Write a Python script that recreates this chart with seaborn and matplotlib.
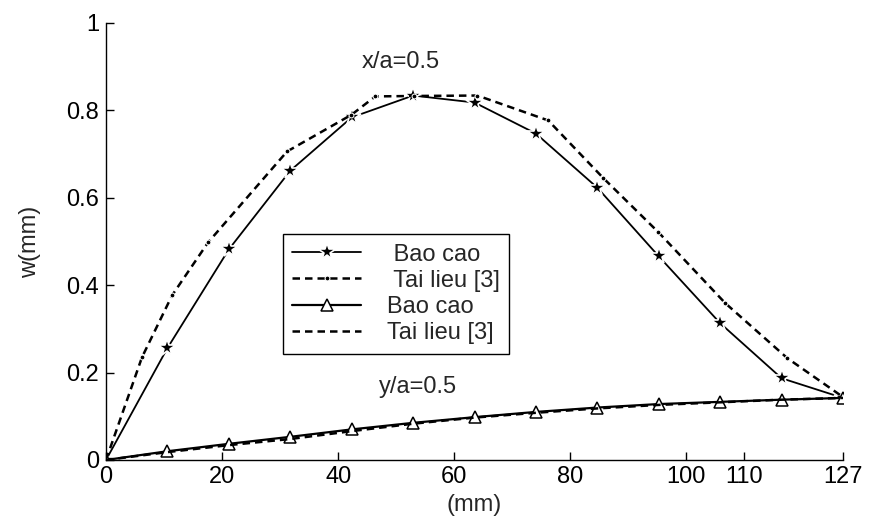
import numpy as np
import pandas as pd
import matplotlib
matplotlib.use("Agg")
import matplotlib.pyplot as plt
import seaborn as sns


# DATA
# x/a = 0.5 curves
x_bao_x = [0, 10.58, 21.17, 31.75, 42.33, 52.92, 63.5, 74.08, 84.67, 95.25, 105.83, 116.42, 127]
w_bao_x = [0, 0.256, 0.482, 0.662, 0.784, 0.834, 0.818, 0.747, 0.623, 0.466, 0.313, 0.187, 0.142]

x_tl_x = [0, 6.2, 11.4, 17.6, 31.2, 42.3, 46.4, 53, 64, 76.2, 85.7, 95.2, 106.7, 117.4, 127]
w_tl_x = [0, 0.235, 0.377, 0.498, 0.706, 0.79, 0.832, 0.833, 0.834, 0.777, 0.645, 0.521, 0.359, 0.233, 0.144]

# y/a = 0.5 curves
x_bao_y = [0, 10.58, 21.17, 31.75, 42.33, 52.92, 63.5, 74.08, 84.67, 95.25, 105.83, 116.42, 127]
w_bao_y = [0, 0.02, 0.037, 0.053, 0.07, 0.085, 0.098, 0.11, 0.12, 0.128, 0.133, 0.138, 0.142]
w_tl_y = [0, 0.018, 0.034, 0.048, 0.066, 0.083, 0.097, 0.108, 0.118, 0.126, 0.132, 0.138, 0.142]

x_ticks = [0, 20, 40, 60, 80, 100, 110, 127]
y_ticks = [0, 0.2, 0.4, 0.6, 0.8, 1]
y_ticklabels = ["0", "0.2", "0.4", "0.6", "0.8", "1"]


# PLOT
sns.set_style("ticks")
plt.rcParams["font.family"] = ["Liberation Sans", "DejaVu Sans"]

fig = plt.figure(figsize=(8.71, 5.18), dpi=100)
ax = fig.add_axes([0.1217, 0.112, 0.8462, 0.8436])

dash = (0, (3, 2))
sns.lineplot(x=x_bao_x, y=w_bao_x, ax=ax, color="k", linewidth=1.3,
             marker="*", markersize=13, markeredgewidth=1.2,
             label=" Bao cao")
sns.lineplot(x=x_tl_x, y=w_tl_x, ax=ax, color="k", linewidth=1.8,
             linestyle=dash, marker=".", markersize=7,
             label=" Tai lieu [3]")
sns.lineplot(x=x_bao_y, y=w_bao_y, ax=ax, color="k", linewidth=1.6,
             marker="^", markersize=8, markerfacecolor="white",
             markeredgecolor="k", markeredgewidth=1.1,
             label="Bao cao")
sns.lineplot(x=x_bao_y, y=w_tl_y, ax=ax, color="k", linewidth=1.8,
             linestyle=dash, label="Tai lieu [3]")

ax.set_xlim(0, 127)
ax.set_ylim(0, 1)
ax.set_xticks(x_ticks)
ax.set_yticks(y_ticks)
ax.set_yticklabels(y_ticklabels)
ax.tick_params(direction="in", length=6, width=1, labelsize=17, colors="k")
ax.tick_params(axis="x", pad=4)
ax.tick_params(axis="y", pad=5)
for s in ["top", "right"]:
    ax.spines[s].set_visible(False)
for s in ["left", "bottom"]:
    ax.spines[s].set_color("k")
    ax.spines[s].set_linewidth(1)

ax.set_xlabel("(mm)", fontsize=17, labelpad=5)
ax.set_ylabel("w(mm)", fontsize=17, labelpad=18)

ax.text(44.0, 0.911, "x/a=0.5", fontsize=17, ha="left", va="center")
ax.text(47.0, 0.167, "y/a=0.5", fontsize=17, ha="left", va="center")

leg = ax.legend(loc="upper left", bbox_to_anchor=(0.240, 0.517),
                borderaxespad=0, fontsize=17, fancybox=False,
                edgecolor="k", framealpha=1, handlelength=2.9,
                handletextpad=1.1, labelspacing=0.18, borderpad=0.4)
leg.get_frame().set_linewidth(1)

fig.savefig("out.png", dpi=100)
